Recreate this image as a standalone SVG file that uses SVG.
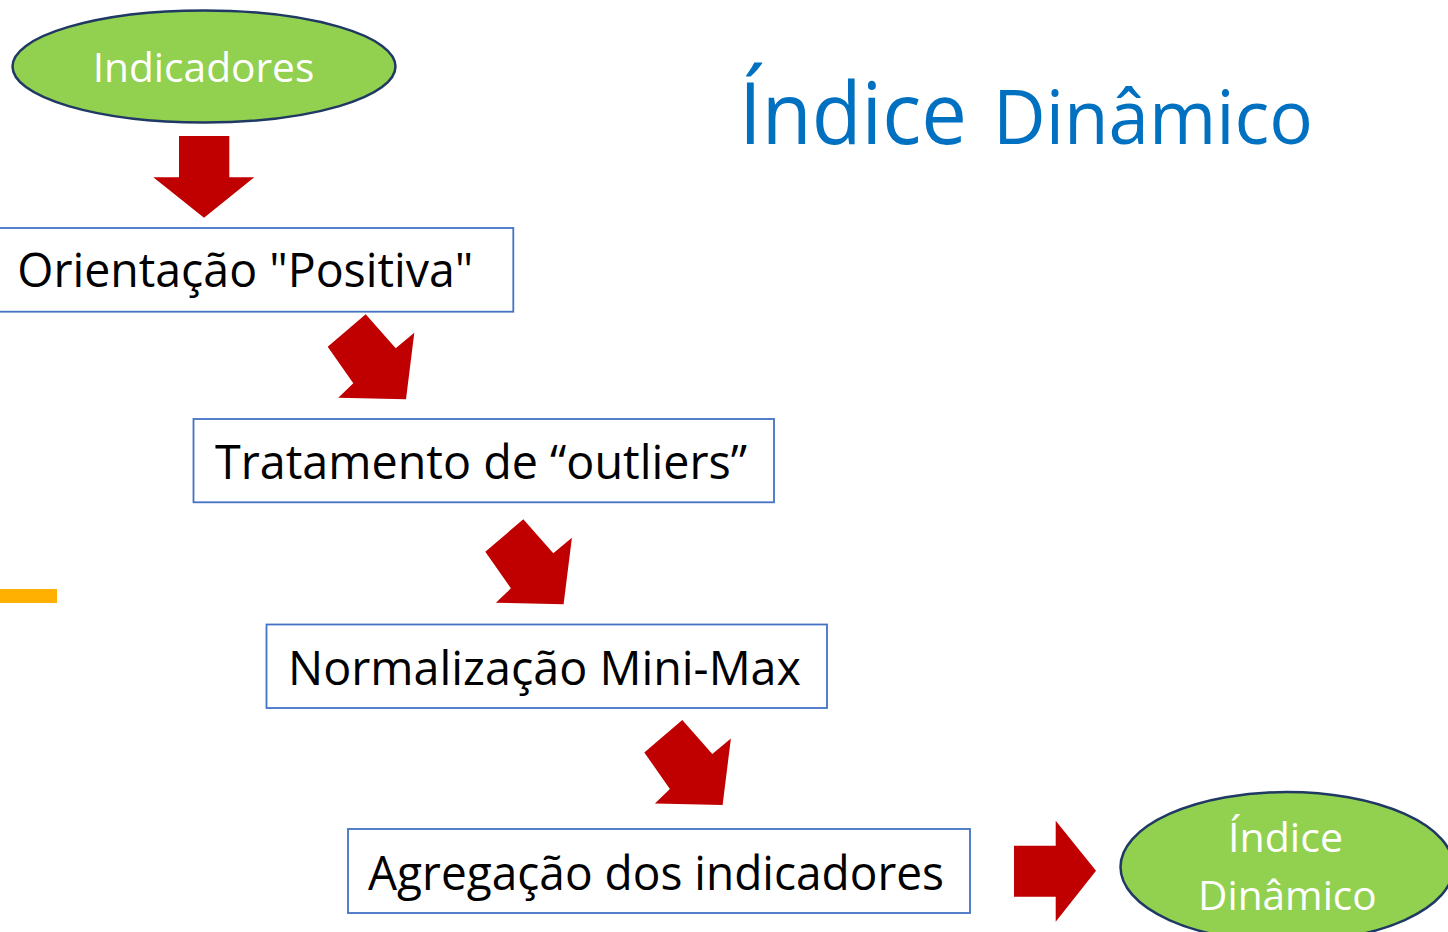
<svg xmlns="http://www.w3.org/2000/svg" width="1448" height="932" viewBox="0 0 1448 932">
<style>
.oval{fill:#92d050;stroke:#1f3864;stroke-width:2.5}
.box{fill:#ffffff;stroke:#4472c4;stroke-width:1.8}
.arrow{fill:#c00000}
.wt{fill:#ffffff;font-family:"Open Sans","Noto Sans",sans-serif;font-size:40px}
.bt{fill:#000000;font-family:"Open Sans","Noto Sans",sans-serif;font-size:47.5px}
.tt{fill:#0070c0;font-family:"Open Sans","Noto Sans",sans-serif}
</style>
<defs>
<polygon id="diag" points="365.7,314.3 395.7,348.3 414.3,332.7 406,399.3 338.3,397.7 353.3,383.3 327.7,346.7"/>
</defs>
<rect x="0" y="0" width="1448" height="932" fill="#ffffff"/>
<g id="title">
<text class="tt" x="739" y="144" font-size="86" textLength="228" lengthAdjust="spacingAndGlyphs">Índice</text>
<text class="tt" x="993" y="144" font-size="75" textLength="320" lengthAdjust="spacingAndGlyphs">Dinâmico</text>
</g>
<rect id="orange-mark" x="0" y="589" width="57" height="14" fill="#ffb000"/>
<g id="connectors">
<polygon class="arrow" points="179,136 229.3,136 229.3,177.3 254.3,177.3 204,217.7 153.3,177.3 179,177.3"/>
<use href="#diag" class="arrow"/>
<use href="#diag" class="arrow" transform="translate(157.6,205)"/>
<use href="#diag" class="arrow" transform="translate(316.6,405.7)"/>
<polygon class="arrow" points="1014,845.7 1055.7,845.7 1055.7,820.7 1096,870.7 1055.7,921.7 1055.7,896.7 1014,896.7"/>
</g>
<g id="indicadores">
<ellipse class="oval" cx="204" cy="66.5" rx="191.5" ry="56"/>
<text class="wt" x="92.7" y="81.7" textLength="221.6" lengthAdjust="spacingAndGlyphs">Indicadores</text>
</g>
<g id="orientacao">
<rect class="box" x="-10" y="228" width="523.3" height="83.7"/>
<text class="bt" x="17.3" y="286.7" textLength="456" lengthAdjust="spacingAndGlyphs">Orientação "Positiva"</text>
</g>
<g id="outliers">
<rect class="box" x="193.5" y="419" width="580.5" height="83.3"/>
<text class="bt" x="215" y="478.5" textLength="532" lengthAdjust="spacingAndGlyphs">Tratamento de “outliers”</text>
</g>
<g id="normalizacao">
<rect class="box" x="266.5" y="624.5" width="560.5" height="83.5"/>
<text class="bt" x="288" y="685" textLength="513" lengthAdjust="spacingAndGlyphs">Normalização Mini-Max</text>
</g>
<g id="agregacao">
<rect class="box" x="348" y="829" width="622" height="84"/>
<text class="bt" x="368" y="890" textLength="576" lengthAdjust="spacingAndGlyphs">Agregação dos indicadores</text>
</g>
<g id="indice-dinamico">
<ellipse class="oval" cx="1287" cy="867" rx="166.5" ry="75"/>
<text class="wt" x="1228" y="851.7" textLength="115" lengthAdjust="spacingAndGlyphs">Índice</text>
<text class="wt" x="1198" y="910" textLength="178.7" lengthAdjust="spacingAndGlyphs">Dinâmico</text>
</g>
</svg>
